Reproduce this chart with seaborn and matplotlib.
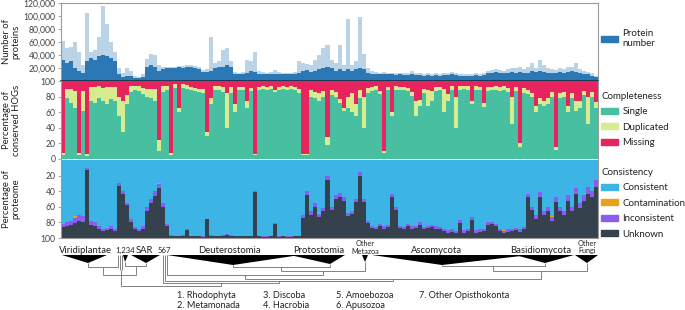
import numpy as np
import pandas as pd
import matplotlib.pyplot as plt
import seaborn as sns
from matplotlib.patches import Patch, Polygon

# proteomes binned along the species tree (left to right)
# number of proteins (thousands): typical value per bin and the highest proteome in the bin
proteins = [32, 28, 30, 20, 15, 12, 30, 35, 33, 38, 40, 38, 35, 30,
            10, 6, 8,
            8, 5, 5, 6, 22, 25, 22, 15, 18, 20,
            20, 20, 21, 20, 21, 21, 20, 18, 14, 14, 16, 20, 22, 22, 25, 22, 11, 10, 10, 12, 16, 14, 11, 10,
            10, 10, 10, 11, 10, 10, 10, 10, 12,
            15, 17, 14, 16, 18, 20, 22, 20, 16, 18,
            15, 18, 16, 18, 20, 18, 12,
            11, 10, 10, 11, 10, 10, 9, 10, 9, 9, 10, 9, 9, 8, 9, 8, 9, 8, 9, 9, 10, 9, 8, 8, 7, 8, 9, 8, 9,
            12, 13, 14, 13, 12, 13, 14, 13, 14, 12, 13, 15,
            14, 16, 14, 13, 12, 13, 14, 12, 14, 15, 14, 12,
            11, 10, 8, 6]
proteins_peak = [62, 50, 52, 60, 45, 25, 105, 45, 48, 68, 115, 88, 60, 45,
                 20, 12, 20,
                 15, 7, 6, 10, 34, 42, 40, 25, 22, 22,
                 22, 22, 23, 23, 24, 25, 23, 22, 17, 18, 68, 28, 30, 48, 50, 30, 14, 13, 14, 33, 30, 44, 16, 14,
                 13, 14, 17, 14, 13, 13, 13, 14, 30,
                 28, 26, 25, 33, 40, 50, 55, 32, 28, 55,
                 25, 95, 25, 30, 98, 42, 20,
                 16, 14, 13, 14, 13, 13, 12, 13, 12, 13, 15, 12, 12, 11, 12, 11, 12, 11, 12, 13, 14, 12, 11, 10, 10,
                 10, 13, 11, 12, 15, 17, 18, 17, 16, 18, 20, 20, 22, 18, 22, 27,
                 20, 33, 25, 20, 18, 17, 20, 18, 22, 22, 28, 18,
                 15, 14, 12, 8]

# completeness of conserved HOGs (%)
single = [5, 78, 72, 65, 5, 62, 4, 74, 72, 78, 75, 70, 77, 74,
          55, 35, 70,
          86, 89, 87, 83, 80, 78, 75, 10, 86, 89,
          5, 91, 60, 91, 90, 88, 87, 86, 85, 30, 70, 89, 89, 86, 40, 85, 60, 89, 89, 65, 87, 5, 89, 90,
          89, 90, 86, 89, 90, 89, 90, 88, 85,
          5, 5, 80, 78, 75, 80, 18, 82, 80, 72,
          62, 65, 60, 55, 78, 40, 85,
          87, 89, 83, 8, 89, 55, 89, 88, 89, 87, 81, 55, 68, 85, 68, 75, 87, 88, 60, 75, 89, 40, 89, 90, 89,
          70, 89, 88, 67, 87, 88, 89, 87, 88, 86, 45, 87, 15, 85, 83, 79,
          60, 70, 68, 70, 80, 12, 78, 80, 60, 78, 62, 65,
          82, 45, 80, 65]
duplicated = [3, 12, 18, 22, 3, 25, 2, 18, 20, 15, 16, 22, 15, 18,
              25, 40, 12,
              7, 5, 6, 8, 10, 12, 15, 15, 8, 5,
              3, 5, 5, 5, 5, 4, 4, 4, 5, 5, 8, 4, 5, 6, 45, 7, 10, 3, 3, 10, 4, 2, 3, 3,
              3, 3, 3, 3, 3, 3, 3, 4, 5,
              2, 2, 8, 8, 10, 7, 10, 6, 6, 5,
              4, 15, 25, 15, 10, 40, 6,
              5, 4, 4, 2, 3, 5, 4, 4, 3, 4, 5, 20, 8, 5, 20, 12, 5, 4, 30, 8, 4, 40, 4, 3, 4,
              5, 4, 4, 5, 5, 4, 4, 5, 5, 5, 35, 5, 5, 6, 6, 6,
              8, 8, 6, 8, 6, 3, 7, 6, 8, 6, 12, 10,
              5, 35, 6, 8]

# consistency of the proteome (%)
consistent = [82, 80, 78, 72, 70, 72, 10, 78, 80, 85, 88, 86, 85, 88,
              30, 40, 55,
              75, 86, 88, 85, 60, 50, 40, 30, 55, 82,
              96, 97, 97, 96, 89, 97, 97, 97, 98, 75, 96, 97, 97, 96, 95, 96, 97, 97, 97, 97, 97, 40, 97, 98,
              98, 97, 81, 98, 97, 98, 98, 97, 97,
              70, 40, 65, 55, 68, 62, 20, 60, 45, 42,
              48, 68, 65, 50, 15, 50, 78,
              84, 86, 82, 85, 83, 43, 60, 84, 86, 82, 85, 84, 80, 86, 84, 83, 85, 86, 88, 90, 89, 91, 77, 90, 88,
              73, 90, 89, 88, 80, 79, 82, 88, 90, 89, 88, 87, 89, 86, 43, 60,
              70, 41, 65, 60, 72, 47, 60, 65, 45, 60, 36, 55,
              45, 35, 40, 25]
contamination = [0, 0, 0, 2, 0, 0, 0, 0, 0, 0, 0, 1, 0, 0,
                 0, 0, 0,
                 0, 0, 0, 0, 0, 0, 0, 1, 0, 0,
                 0, 0, 0, 0, 0, 0, 0, 0, 0, 0, 0, 0, 0, 0, 0, 0, 0, 0, 0, 0, 0, 0, 0, 0,
                 0, 0, 0, 0, 0, 0, 0, 0, 0,
                 0, 0, 1, 0, 1, 0, 0, 0, 0, 0,
                 0, 0, 0, 0, 0, 0, 0,
                 0, 0, 0, 0, 0, 0, 0, 0, 0, 0, 0, 0, 0, 0, 0, 0, 0, 0, 0, 0, 0, 0, 0, 0, 0,
                 0, 0, 0, 0, 0, 0, 0, 0, 1, 0, 0, 0, 0, 0, 0, 0,
                 0, 0, 0, 0, 1, 0, 0, 0, 0, 0, 0, 0,
                 0, 0, 0, 0]
inconsistent = [4, 4, 5, 7, 8, 7, 3, 5, 4, 3, 3, 3, 3, 3,
                3, 3, 3,
                4, 3, 3, 3, 5, 5, 6, 5, 5, 3,
                1, 1, 1, 1, 1, 1, 1, 1, 1, 1, 1, 1, 1, 1, 1, 1, 1, 1, 1, 1, 1, 1, 1, 1,
                1, 1, 1, 1, 1, 1, 1, 1, 1,
                4, 5, 4, 5, 4, 4, 5, 4, 5, 5,
                5, 4, 4, 4, 5, 4, 3,
                3, 3, 3, 3, 3, 4, 4, 3, 3, 3, 3, 3, 3, 3, 3, 3, 3, 3, 3, 3, 3, 3, 4, 3, 3,
                4, 3, 3, 3, 3, 3, 3, 3, 3, 3, 3, 3, 3, 3, 4, 4,
                6, 7, 6, 6, 5, 7, 6, 6, 7, 6, 8, 6,
                8, 9, 8, 10]

# tree: clade labels and footnote
clade_labels = ["Viridiplantae", "1,234", "SAR", "567", "Deuterostomia", "Protostomia",
                "Other\nMetazoa", "Ascomycota", "Basidiomycota", "Other\nFungi"]
footnotes = ["1. Rhodophyta", "2. Metamonada", "3. Discoba", "4. Hacrobia",
             "5. Amoebozoa", "6. Apusozoa", "7. Other Opisthokonta"]

df = pd.DataFrame({"proteome": np.arange(len(proteins))})
df["proteins"] = np.array(proteins) * 1000
df["peak"] = np.array(proteins_peak) * 1000
df["single"] = single
df["single_dup"] = df["single"] + np.array(duplicated)
df["missing"] = 100 - df["single_dup"]
df["with_missing"] = df["single_dup"] + df["missing"]
df["consistent"] = consistent
df["cons_cont"] = df["consistent"] + np.array(contamination)
df["cons_cont_inc"] = df["cons_cont"] + np.array(inconsistent)
df["unknown"] = 100 - df["cons_cont_inc"]
df["with_unknown"] = df["cons_cont_inc"] + df["unknown"]

c_prot = "#2b78b4"
c_single = "#48bfa0"
c_dup = "#d6ec8e"
c_miss = "#e8245e"
c_cons = "#3db4e6"
c_cont = "#e8a21a"
c_inc = "#8b5cf0"
c_unk = "#35414c"
grey = "#9a9a9a"

sns.set_style("white")
plt.rcParams["font.family"] = ["Lato", "DejaVu Sans"]

fig = plt.figure(figsize=(6.85, 3.10), dpi=100)
L, W, H = 61 / 685, 537 / 685, 78 / 310
ax1 = fig.add_axes([L, 1 - 81 / 310, W, H])
ax2 = fig.add_axes([L, 1 - 159 / 310, W, H])
ax3 = fig.add_axes([L, 1 - 238 / 310, W, H])


def bars(ax, col, color, **kw):
    sns.barplot(data=df, x="proteome", y=col, color=color, width=1, saturation=1,
                errorbar=None, linewidth=0, ax=ax, **kw)


bars(ax1, "peak", c_prot, alpha=0.32)
bars(ax1, "proteins", c_prot)
bars(ax2, "with_missing", c_miss)
bars(ax2, "single_dup", c_dup)
bars(ax2, "single", c_single)
bars(ax3, "with_unknown", c_unk)
bars(ax3, "cons_cont_inc", c_inc)
bars(ax3, "cons_cont", c_cont)
bars(ax3, "consistent", c_cons)

ax1.set_ylim(0, 120000)
ax1.set_yticks([20000, 40000, 60000, 80000, 100000, 120000])
ax1.set_yticklabels([f"{v:,}" for v in [20000, 40000, 60000, 80000, 100000, 120000]])
ax2.set_ylim(0, 100)
ax2.set_yticks([0, 20, 40, 60, 80, 100])
ax3.set_ylim(100, 0)
ax3.set_yticks([20, 40, 60, 80, 100])

ylabels = ["Number of\nproteins", "Percentage of\nconserved HOGs", "Percentage of\nproteome"]
for ax, lab in zip([ax1, ax2, ax3], ylabels):
    ax.set_xticks([])
    ax.set_xlabel("")
    ax.set_ylabel(lab, fontsize=6.8, color="#222222", linespacing=1.15)
    ax.yaxis.set_label_coords(-0.075, 0.5)
    ax.tick_params(axis="y", labelsize=6.2, labelcolor="#444444", length=2.5, width=0.6,
                   color=grey, pad=1.5, left=True)
    for s in ax.spines.values():
        s.set_color(grey)
        s.set_linewidth(0.8)
ax1.spines["bottom"].set_color("#1c2838")
ax1.spines["bottom"].set_linewidth(1.1)
ax2.spines["top"].set_visible(False)
ax2.spines["bottom"].set_visible(False)
ax3.spines["top"].set_visible(False)

# legends
def legend(handles, labels, top, title=None):
    leg = fig.legend(handles, labels, loc="upper left", bbox_to_anchor=(601 / 685, 1 - top / 310),
                     frameon=False, fontsize=7, title=title, title_fontsize=7, alignment="left",
                     handlelength=1.7, handleheight=0.55, handletextpad=0.5, labelspacing=0.66,
                     borderpad=0, borderaxespad=0)
    leg.get_title().set_color("#222222")
    for t in leg.get_texts():
        t.set_color("#222222")
    return leg

legend([Patch(color=c_prot)], ["Protein\nnumber"], 29)
legend([Patch(color=c_single), Patch(color=c_dup), Patch(color=c_miss)],
       ["Single", "Duplicated", "Missing"], 92, "Completeness")
legend([Patch(color=c_cons), Patch(color=c_cont), Patch(color=c_inc), Patch(color=c_unk)],
       ["Consistent", "Contamination", "Inconsistent", "Unknown"], 168, "Consistency")

# species tree (pixel coordinates of the schematic)
axt = fig.add_axes([0, 0, 1, 72 / 310])
axt.set_xlim(0, 685)
axt.set_ylim(310, 238)
axt.axis("off")

triangles = [(62, 107, 88, 263), (123, 128, 125, 262), (131, 160, 146, 263),
             (167, 300, 233, 265), (290, 345, 330, 264), (362, 368, 365, 262),
             (372, 530, 442, 265), (515, 574, 545, 263), (575, 598, 587, 263)]
for x0, x1, xt, yt in triangles:
    axt.add_patch(Polygon([(x0, 255), (x1, 255), (xt, yt)], closed=True, color="black", lw=0))

lc = "#6e6e6e"
segments = [
    [(118, 255), (118, 267)], [(120, 255), (120, 270)], [(122, 255), (122, 270)],
    [(88, 263), (88, 267), (118, 267)], [(103, 267), (103, 275)],
    [(125, 262), (125, 266), (146, 266), (146, 263)], [(136, 266), (136, 275)],
    [(103, 275), (136, 275)], [(121, 270), (121, 286)],
    [(233, 265), (233, 267), (330, 267), (330, 264)], [(281, 267), (281, 271)],
    [(365, 262), (365, 271), (281, 271)], [(323, 271), (323, 275)],
    [(167, 255), (167, 275), (323, 275)], [(245, 275), (245, 279)],
    [(442, 265), (442, 266), (545, 266), (545, 263)], [(493, 266), (493, 271)],
    [(587, 263), (587, 271), (493, 271)], [(541, 271), (541, 279), (245, 279)],
    [(393, 279), (393, 281)], [(165, 255), (165, 281), (393, 281)],
    [(279, 281), (279, 283)], [(163, 255), (163, 283), (279, 283)],
    [(221, 283), (221, 286)], [(121, 286), (221, 286)],
]
for seg in segments:
    xs, ys = zip(*seg)
    axt.plot(xs, ys, color=lc, lw=0.6, solid_capstyle="butt")

label_pos = [(85, 253), (125, 253), (144, 253), (164, 253), (229, 253), (319, 253),
             (365, 253.5), (437, 253), (541, 253), (587, 253.5)]
for lab, (x, y) in zip(clade_labels, label_pos):
    small = "\n" in lab
    axt.text(x, y, lab, ha="center", va="baseline",
             fontsize=5.2 if small else (5.6 if lab in ("1,234", "567") else 6.8),
             color="#222222", linespacing=1.0)

note_pos = [(177, 295), (177, 305), (263, 295), (263, 305), (336, 295), (336, 305), (419, 295)]
for lab, (x, y) in zip(footnotes, note_pos):
    axt.text(x, y, lab, ha="left", va="center", fontsize=6.6, color="#222222")

fig.savefig("out.png", dpi=100)
